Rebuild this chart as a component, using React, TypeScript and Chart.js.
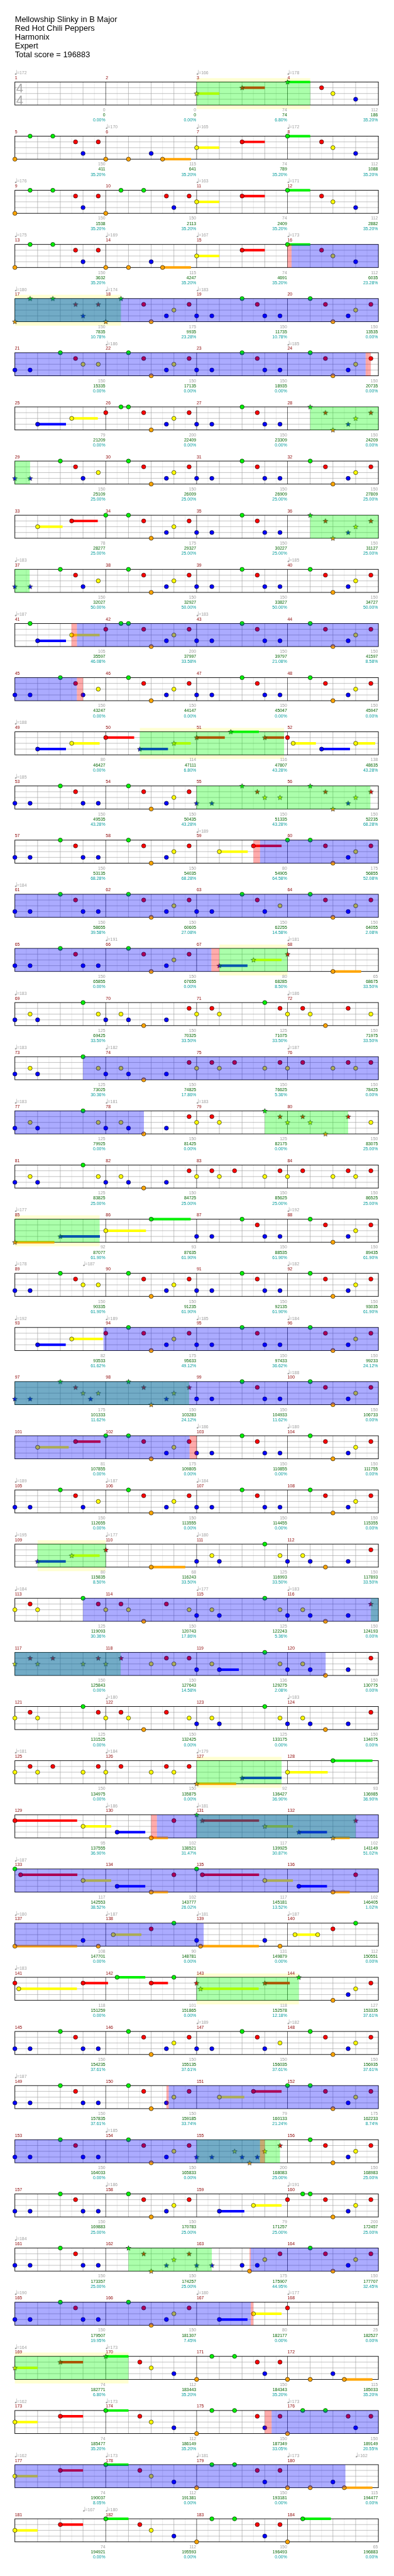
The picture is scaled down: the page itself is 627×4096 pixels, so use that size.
import { useEffect, useRef } from 'react';
import { Chart, registerables } from 'chart.js';
Chart.register(...registerables);

const S = 0.612;
const W = 627;
const H = 4096;
const REF_W = 1024;
const REF_H = 6691;

const TITLE_LINES = [
  'Mellowship Slinky in B Major',
  'Red Hot Chili Peppers',
  'Harmonix',
  'Expert',
  'Total score = 196883',
];

const LANE_KEYS = 'GRYBO';
const LANE_COLORS = ['#00f000', '#ff0000', '#ffff00', '#0000ff', '#ffa500'];

// Notes per row (4 measures / 16 beats each): <lane><beat>[~<sustain beats>]
const ROW_NOTES = [
  'Y8~1 R10~1 G12~1 R13.5 Y14 B15',
  'O0 G0.67 G1.67 R2.67 B3 R3.67 O4 O5 B6 O6.5~1.25 Y8~1 R10~1 G12~1 R13.5 Y14 B15',
  'O0 G0.67 G1.67 R2.67 B3 R3.67 O4 G4.67 G5.67 R6.67 B7 R7.67 Y8~1 R10~1 G12~1 R13.5 Y14 B15',
  'O0 G0.67 G1.67 R2.67 B3 R3.67 O4 O5 B6 O6.5~1.25 Y8~1 R10~1 G12~1 R13.5 Y14 B15',
  'O0 G0.67 G1.67 R2.67 B3 R3.67 O4 G4.67 R5.67 O6 B6.67 Y7 R7.67 B8 B8.67 G10 R10.67 B11 B11.67 G13 R13.67 O14 B14.67 Y15 R15.67',
  'B0 B0.67 G2 R2.67 Y3 Y3.67 G5 R5.67 O6 B6.67 Y7 R7.67 B8 B8.67 G10 R10.67 B11 B11.67 G13 R13.67 O14 B14.67 Y15 R15.67',
  'B1~1.25 Y2.5~1.15 R4 G4.67 G5 R5.67 O6 B6.67 Y7 R7.67 B8 B8.67 G10 R10.67 B11 B11.67 G13 R13.67 O14 B14.67 Y15 R15.67',
  'B0 B0.67 G2 R2.67 B3 Y3.67 G5 R5.67 O6 B6.67 Y7 R7.67 B8 B8.67 G10 R10.67 B11 B11.67 G13 R13.67 O14 B14.67 Y15 R15.67',
  'Y1~1.1 R2.5~1.15 G4 G5 R5.67 O6 B6.67 Y7 R7.67 B8 B8.67 G10 R10.67 B11 B11.67 G13 R13.67 O14 B14.67 Y15 R15.67',
  'B0 B0.67 G2 R2.67 B3 Y3.67 G5 R5.67 O6 B6.67 Y7 R7.67 B8 B8.67 G10 R10.67 B11 B11.67 G13 R13.67 O14 B14.67 Y15 R15.67',
  'G0.67 B1~1.25 Y2.5~1.23 R4 G4.67 G5 R5.67 O6 B6.67 Y7 R7.67 B8 B8.67 G10 R10.67 B11 B11.67 G13 R13.67 O14 B14.67 Y15 R15.67',
  'B0 B0.67 G2 R2.67 B3 Y3.67 G5 R5.67 O6 B6.67 Y7 R7.67 B8 B8.67 G10 R10.67 B11 B11.67 G13 R13.67 O14 B14.67 Y15 R15.67',
  'B1~1.25 Y2.5~1.23 R4~1.25 B5.5~1.24 Y7~0.74 R8~1.24 G9.5~1.24 R11~0.85 R12 Y12.25~1 B13.5~1.25 Y15~0.86',
  'B0 B0.67 G2 R2.67 B3 B3.67 G5 R5.67 O6 B6.67 Y7 R7.67 B8 B8.67 G10 R10.67 Y11 Y11.67 G13 R13.67 O14 B14.67 Y15 R15.67',
  'B0 B0.67 G2 R2.67 B3 B3.67 G5 R5.67 O6 B6.67 Y7 R7.67 Y9~1.25 R10.5~1.24 G12 G13 R13.67 O14 B14.67 Y15 R15.67',
  'B0 B0.67 G2 R2.67 B3 B3.67 G5 R5.67 O6 B6.67 Y7 R7.67 B8 B8.67 G10 R10.67 B11 Y11.67 G13 R13.67 O14 B14.67 Y15 R15.67',
  'B0 B0.67 G2 R2.67 B3 B3.67 G5 R5.67 O6 B6.67 Y7 R7.67 B9~1.24 Y10.5~1.24 R12 O14~1.24',
  'B0 Y0.67 B1 G3 Y3.67 B4 Y4.67 B5 O5.67 B6.67 R7.67 Y8 R8.67 Y9 G11 R11.67 Y12 R12.67 Y13 O13.67 R14.67 Y15.67',
  'B0 Y0.67 B1 G3 Y3.67 B4 Y4.67 B5 O5.67 B6.67 R7.67 Y8 R8.67 Y9 R9.67 Y11 R11.67 Y12 R12.67 Y14 R14.67 Y15 R15.67',
  'B0 Y0.67 B1 G3 Y3.67 B4 Y4.67 B5 O5.67 B6.67 R7.67 Y8 R8.67 Y9 G11 R11.67 Y12 R12.67 Y13 O13.67 R14.67 Y15.67',
  'B0 Y0.67 B1 G3 Y3.67 B4 Y4.67 B5 O5.67 B6.67 R7.67 Y8 R8.67 Y9 R9.67 Y11 R11.67 Y12 R12.67 Y14 R14.67 Y15 R15.67',
  'O0~1.74 B2~1.74 Y4~1.77 G6~1.74 B8 B8.67 G10 R10.67 B11 B11.67 G13 R13.67 O14 B14.67 Y15 R15.67',
  'B0 B0.67 G2 R2.67 Y3 Y3.67 G5 R5.67 O6 B6.67 Y7 R7.67 B8 B8.67 G10 R10.67 B11 B11.67 G13 R13.67 O14 B14.67 Y15 R15.67',
  'B1~1.24 Y2.5~1.37 R4 G5 R5.67 O6 B6.67 Y7 R7.67 B8 B8.67 G10 R10.67 B11 B11.67 G13 R13.67 O14 B14.67 Y15 R15.67',
  'B0 B0.67 G2 R2.67 Y3 B3.33 Y3.67 G5 R5.67 O6 B6.67 Y7 R7.67 B8 B8.67 G10 R10.67 B11 B11.67 G13 R13.67 O14 B14.67 Y15 R15.67',
  'Y1~1.37 R2.67~1.1 G4 G5 R5.67 O6 B6.67 Y7 R7.67 B8 B8.67 G10 R10.67 B11 B11.67 G13 R13.67 O14 B14.67 Y15 R15.67',
  'B0 B0.67 G2 R2.67 B3 Y3.67 G5 R5.67 O6 B6.67 Y7 R7.67 B8 B8.67 G10 R10.67 B11 B11.67 G13 R13.67 O14 B14.67 Y15 R15.67',
  'B1~1.24 Y2.5~1.23 R4 O6~1.5 B8 Y8.67 B9 G11 Y11.67 B12 Y12.67 B13 O13.67 B14.67 R15.67',
  'Y0 R0.67 Y1 G3 R3.67 Y4 R4.67 Y5 O5.67 R6.67 Y7.67 B8 Y8.67 B9 G11 Y11.67 B12 Y12.67 B13 O13.67 B14.67 R15.67',
  'Y0 R0.67 Y1 R1.67 Y3 R3.67 Y4 R4.67 Y6 R6.67 Y7 R7.67 B8 Y8.67 B9~0.86 G11 Y11.67 B12 Y12.67 B13 O13.67 B14.67 R15.67',
  'Y0 R0.67 Y1 G3 R3.67 Y4 R4.67 Y5 O5.67 R6.67 Y7.67 B8 Y8.67 B9 G11 Y11.67 B12 Y12.67 B13 O13.67 B14.67 R15.67',
  'Y0 R0.67 Y1 R1.67 Y3 R3.67 Y4 R4.67 Y6 R6.67 Y7 R7.67 O8~1.74 B10~1.74 Y12~1.77 G14~1.74',
  'R0~2.74 Y3~1.24 B4.5~1.24 O6~0.74 R7 G8 R8.25~2.5 Y11~1.24 B12.5~1.24 O14~0.74 R15',
  'G0 R0.25~2.5 Y3~1.24 B4.5~1.24 O6~0.74 R7 G8 R8.25~2.5 Y11~1.24 B12.5~1.24 O14~0.74 R15',
  'O0~2.74 B3 O3.67 Y4.33~1.24 R6 G7 B8 O8.17~2.57 B11 O11.67 Y12.33~1 Y13.33 R14 G15',
  'R0 Y0.17~2.56 R3~1.1 G4.5~1.24 R6~0.74 G7 R8 Y8.17~2.56 R11~1.1 G12.5 O14 B14.67 Y15 R15.67',
  'B0 B0.67 G2 R2.67 B3 B3.67 G5 R5.67 O6 B6.67 Y7 R7.67 B8 B8.67 G10 R10.67 B11 Y11.67 G13 R13.67 O14 B14.67 Y15 R15.67',
  'B0 B0.67 G2 R2.67 B3 B3.67 G5 R5.67 O6 B6.67 Y7 R7.67 Y9~1.1 R10.5~1.24 G12 G13 R13.67 O14 B14.67 Y15 R15.67',
  'B0 B0.67 G2 R2.67 B3 B3.67 G5 R5.67 O6 B6.67 Y7 R7.67 B8 B8.67 Y9.67 B10 O10.33 B10.67 Y11 R11.67 G13 R13.67 O14 B14.67 Y15 R15.67',
  'B0 B0.67 G2 R2.67 B3 B3.67 G5 R5.67 O6 B6.67 Y7 R7.67 B9~1.1 Y10.5~1.24 R12 G12.67 G13 R13.67 O14 B14.67 Y15 R15.67',
  'B0 B0.67 G2 R2.67 B3 B3.67 G5 R5.67 O6 B6.67 Y7 R7.67 B8 B8.67 B10 O10.33 B10.67 Y11 R11.67 G13 R13.67 O14 B14.67 Y15 R15.67',
  'B0 B0.67 G2 R2.67 B3 B3.67 G5 R5.67 O6 B6.67 Y7 R7.67 B9~1.24 Y10.5~1.24 R12',
  'Y0~1 R2~1 G4~1 R5.5 Y6 B7 O8 G8.67 G9.67 R10.67 B11 R11.67 O12 O13 B14 O14.5~1.24',
  'Y0~1 R2~1 G4~1 R5.5 Y6 B7 O8 G8.67 G9.67 R10.67 B11 R11.67 O12 G12.67 G13.67 R14.67 B15 R15.67',
  'Y0~1 R2~1 G4~1 R5.5 Y6 B7 O8 G8.67 G9.67 R10.67 B11 R11.67 O12 O13 B14 O14.5~1.24',
  'Y0~1 R2~1 G4~1 R5.5 Y6 B7 O8 G8.67 G9.67 R10.67 B11 R11.67 O12 G12.67~1.24',
];

const MEASURE_GRAY = [
  0, 0, 74, 112, 150, 115, 74, 112, 150, 150, 74, 112, 150, 115, 74, 112,
  150, 175, 150, 150, 150, 150, 150, 150, 79, 200, 150, 150, 150, 150, 150, 150,
  78, 175, 150, 150, 150, 150, 150, 150, 105, 200, 150, 150, 150, 150, 150, 150,
  80, 114, 116, 138, 150, 150, 150, 150, 150, 150, 80, 175, 150, 150, 150, 150,
  150, 150, 80, 65, 125, 150, 125, 150, 125, 150, 150, 150, 125, 150, 125, 150,
  125, 150, 150, 150, 92, 93, 150, 150, 150, 150, 150, 150, 82, 175, 150, 150,
  175, 150, 150, 150, 81, 175, 150, 150, 150, 150, 150, 150, 80, 68, 125, 150,
  125, 150, 125, 150, 150, 150, 136, 150, 125, 150, 125, 150, 150, 150, 92, 93,
  95, 102, 117, 102, 117, 102, 117, 102, 108, 90, 131, 112, 118, 101, 118, 127,
  150, 150, 150, 150, 150, 150, 79, 175, 150, 150, 200, 150, 150, 150, 79, 200,
  150, 150, 175, 150, 150, 150, 80, 25, 74, 112, 150, 115, 74, 112, 150, 150,
  74, 112, 150, 115, 74, 112, 150, 65,
];

const MEASURE_SCORE = [
  0, 0, 74, 186, 411, 641, 789, 1088, 1538, 2113, 2409, 2882, 3632, 4247, 4691, 6035,
  7835, 9935, 11735, 13535, 15335, 17135, 18935, 20735, 21209, 22409, 23309, 24209, 25109, 26009, 26909, 27809,
  28277, 29327, 30227, 31127, 32027, 32927, 33827, 34727, 35597, 37997, 39797, 41597, 43247, 44147, 45047, 45947,
  46427, 47111, 47807, 48635, 49535, 50435, 51335, 52235, 53135, 54035, 54905, 56855, 58655, 60605, 62255, 64055,
  65855, 67655, 68285, 68675, 69425, 70325, 71075, 71975, 73025, 74825, 76625, 78425, 79925, 81425, 82175, 83075,
  83825, 84725, 85625, 86525, 87077, 87635, 88535, 89435, 90335, 91235, 92135, 93035, 93533, 95633, 97433, 99233,
  101333, 103283, 104933, 106733, 107855, 109805, 110855, 111755, 112655, 113555, 114455, 115355, 115835, 116243, 116993, 117893,
  119093, 120743, 122243, 124193, 125843, 127643, 129275, 130775, 131525, 132425, 133175, 134075, 134975, 135875, 136427, 136985,
  137555, 138521, 139925, 141149, 142553, 143777, 145181, 146405, 147701, 148781, 149879, 150551, 151259, 151865, 152578, 153335,
  154235, 155135, 156035, 156935, 157835, 159185, 160133, 162233, 164033, 165833, 168083, 168983, 169883, 170783, 171257, 172457,
  173357, 174257, 175907, 177707, 179507, 181307, 182177, 182527, 182771, 183443, 184343, 185033, 185477, 186149, 187349, 189149,
  190037, 191381, 193181, 194477, 194921, 195593, 196493, 196883,
];

const MEASURE_PCT = [
  0, 0, 6.8, 35.2, 35.2, 35.2, 35.2, 35.2, 35.2, 35.2, 35.2, 35.2, 35.2, 35.2, 35.2, 23.28,
  10.78, 23.28, 10.78, 0, 0, 0, 0, 0, 0, 0, 0, 0, 25, 25, 25, 25,
  25, 25, 25, 25, 50, 50, 50, 50, 46.08, 33.58, 21.08, 8.58, 0, 0, 0, 0,
  0, 6.8, 43.28, 43.28, 43.28, 43.28, 43.28, 68.28, 68.28, 68.28, 64.58, 52.08, 39.58, 27.08, 14.58, 2.08,
  0, 0, 8.5, 33.5, 33.5, 33.5, 33.5, 33.5, 30.36, 17.86, 5.36, 0, 0, 0, 0, 25,
  25, 25, 25, 25, 61.9, 61.9, 61.9, 61.9, 61.9, 61.9, 61.9, 61.9, 61.62, 49.12, 36.62, 24.12,
  11.62, 24.12, 11.62, 0, 0, 0, 0, 0, 0, 0, 0, 0, 8.5, 33.5, 33.5, 33.5,
  30.36, 17.86, 5.36, 0, 0, 14.58, 2.08, 0, 0, 0, 0, 0, 0, 0, 36.9, 36.9,
  36.9, 31.47, 30.87, 51.02, 38.52, 26.02, 13.52, 1.02, 0, 0, 0, 0, 0, 0, 12.18, 37.61,
  37.61, 37.61, 37.61, 37.61, 37.61, 33.74, 21.24, 8.74, 0, 0, 25, 25, 25, 25, 25, 25,
  25, 25, 44.95, 32.45, 19.95, 7.45, 0, 0, 6.8, 35.2, 35.2, 35.2, 35.2, 35.2, 33.05, 20.55,
  8.05, 0, 0, 0, 0, 0, 0, 0,
];

// [measure, beat within measure, bpm]
const TEMPOS = [
  [1, 0, 172], [3, 0, 166], [4, 0, 178],
  [6, 0, 170], [7, 0, 165], [8, 0, 172],
  [9, 0, 176], [11, 0, 163], [12, 0, 171],
  [13, 0, 175], [14, 0, 169], [15, 0, 167], [16, 0, 173],
  [17, 0, 180], [18, 0, 174], [19, 0, 183],
  [22, 0, 186], [24, 0, 185],
  [37, 0, 183], [40, 0, 185],
  [41, 0, 187], [43, 0, 183],
  [49, 0, 188],
  [53, 0, 185],
  [59, 0, 189],
  [61, 0, 184],
  [66, 0, 191], [68, 0, 181],
  [69, 0, 183], [72, 0, 186],
  [73, 0, 183], [74, 0, 182], [76, 0, 187],
  [77, 0, 183], [78, 0, 181], [79, 0, 183],
  [85, 0, 177], [88, 0, 192],
  [89, 0, 178], [89, 3, 187], [92, 0, 182],
  [93, 0, 192], [94, 0, 189], [95, 0, 185], [96, 0, 184],
  [100, 0, 188],
  [103, 0, 186], [104, 0, 180],
  [105, 0, 189], [106, 0, 187], [107, 0, 184],
  [109, 0, 195], [110, 0, 177], [111, 0, 180],
  [113, 0, 184], [115, 0, 177], [116, 0, 183],
  [122, 0, 180], [124, 0, 183],
  [125, 0, 181], [126, 0, 184], [127, 0, 179],
  [130, 0, 186], [131, 0, 181],
  [133, 0, 187],
  [137, 0, 180], [138, 0, 187], [139, 0, 181], [140, 0, 187],
  [141, 0, 183],
  [147, 0, 189], [148, 0, 182],
  [149, 0, 187],
  [154, 0, 185],
  [158, 0, 186], [160, 0, 191],
  [161, 0, 184],
  [165, 0, 190], [167, 0, 180], [168, 0, 177],
  [169, 0, 164], [170, 0, 173],
  [173, 0, 162], [174, 0, 173], [176, 0, 173],
  [177, 0, 162], [178, 0, 173], [179, 0, 181], [180, 0, 173], [180, 3, 162],
  [181, 3, 167], [182, 0, 180],
];

// [row (1-based), start beat, end beat]
const GREEN_ZONES = [
  [1, 8, 13], [5, 0, 4.67], [7, 13, 16], [8, 0, 0.67], [9, 13, 16], [10, 0, 0.65],
  [13, 5.5, 11.85], [14, 8, 15.65], [17, 9, 12], [20, 11, 14.67], [22, 0, 3.73],
  [25, 0, 7.67], [28, 1, 4], [29, 15.67, 16], [30, 0, 4.66], [32, 8, 11.74],
  [33, 8, 15], [36, 8, 12.5], [39, 8, 11.67], [41, 5, 8.67], [43, 0, 5],
];
const BLUE_ZONES = [
  [4, 12.18, 16], [5, 0, 16], [6, 0, 15.44], [11, 2.73, 16], [12, 0, 2.73],
  [15, 10.79, 16], [16, 0, 16], [17, 0, 8.65], [19, 3, 16], [20, 0, 5.68],
  [24, 3.9, 16], [25, 0, 16], [26, 0, 7.69], [29, 3, 16], [30, 0, 13.68],
  [33, 6.25, 16], [34, 0, 16], [35, 0, 8.31], [38, 6.77, 16], [39, 0, 10.79],
  [41, 10.38, 16], [42, 0, 10.38], [44, 11.3, 16], [45, 0, 14.55],
];
const PINK_ZONES = [
  [4, 12, 12.18], [6, 15.44, 15.67], [11, 2.49, 2.73], [12, 2.73, 3], [15, 10.5, 10.79],
  [17, 8.65, 9], [26, 7.69, 8], [33, 6, 6.25], [38, 6.67, 6.77], [39, 10.79, 11],
  [41, 10.33, 10.38], [42, 10.38, 10.5], [44, 11, 11.3],
];
const PHRASE_BANDS = [
  [1, 8, 13], [5, 0, 4.67], [13, 5.5, 11.85], [17, 9, 12], [22, 0, 3.73],
  [28, 1, 4], [32, 8, 11.74], [36, 8, 12.5], [43, 0, 5],
];

// reference-pixel geometry
const LEFT = 31;
const BEAT_W = 60;
const STAFF0 = 205.3;
const ROW_PITCH = 141;
const LANE_GAP = 15;
const STAFF_H = 60;
const FONT = '"Liberation Sans", Arial, sans-serif';

type Note = { row: number; beat: number; lane: number; len: number };

const NOTES: Note[] = ROW_NOTES.flatMap((s, row) =>
  s.trim().split(/\s+/).map((tok) => {
    const lane = LANE_KEYS.indexOf(tok[0]);
    const [b, l] = tok.slice(1).split('~');
    return { row, beat: parseFloat(b), lane, len: l ? parseFloat(l) : 0 };
  })
);

const staffTop = (row: number) => STAFF0 + ROW_PITCH * row;
const laneY = (row: number, lane: number) => staffTop(row) + LANE_GAP * lane;

const isStar = (n: Note) =>
  GREEN_ZONES.some(([r, s, e]) => r - 1 === n.row && n.beat >= s - 0.03 && n.beat <= e + 0.03);

function starImage(color: string) {
  const size = 11;
  const c = document.createElement('canvas');
  c.width = size;
  c.height = size;
  const g = c.getContext('2d')!;
  const R = 6.6 * S;
  const r = 2.7 * S;
  g.beginPath();
  for (let i = 0; i < 10; i++) {
    const a = -Math.PI / 2 + (i * Math.PI) / 5;
    const rad = i % 2 ? r : R;
    g.lineTo(size / 2 + rad * Math.cos(a), size / 2 + 0.3 + rad * Math.sin(a));
  }
  g.closePath();
  g.fillStyle = color;
  g.fill();
  g.lineWidth = 0.6;
  g.strokeStyle = '#000';
  g.stroke();
  return c;
}

const gridPlugin = {
  id: 'gridPlugin',
  beforeDatasetsDraw(chart: any) {
    const { ctx } = chart;
    const xs = chart.scales.x;
    const ys = chart.scales.y;
    const X = (b: number) => xs.getPixelForValue(b);
    const Y = (v: number) => ys.getPixelForValue(v);
    ctx.save();
    // phrase bands
    ctx.fillStyle = '#ffffd2';
    PHRASE_BANDS.forEach(([r, s, e]) => {
      const t = staffTop(r - 1);
      ctx.fillRect(X(s), Y(t - 10), X(e) - X(s), Y(t + STAFF_H + 10.5) - Y(t - 10));
    });
    for (let row = 0; row < ROW_NOTES.length; row++) {
      const t = staffTop(row);
      const y0 = Y(t);
      const y1 = Y(t + STAFF_H);
      const x0 = X(0);
      const x1 = X(16);
      ctx.fillStyle = '#ffffff';
      ctx.fillRect(x0, y0, x1 - x0, y1 - y0);
      // half-beat lines
      ctx.lineWidth = S;
      ctx.strokeStyle = '#dedede';
      ctx.beginPath();
      for (let k = 1; k < 32; k += 2) {
        ctx.moveTo(X(k / 2), y0);
        ctx.lineTo(X(k / 2), y1);
      }
      ctx.stroke();
      // beat lines
      ctx.strokeStyle = '#9a9a9a';
      ctx.beginPath();
      for (let k = 1; k < 16; k++) {
        if (k % 4 === 0) continue;
        ctx.moveTo(X(k), y0);
        ctx.lineTo(X(k), y1);
      }
      // lane lines
      for (let l = 1; l < 4; l++) {
        ctx.moveTo(x0, Y(laneY(row, l)));
        ctx.lineTo(x1, Y(laneY(row, l)));
      }
      ctx.stroke();
      // measure lines
      ctx.strokeStyle = '#000';
      ctx.beginPath();
      for (let k = 4; k < 16; k += 4) {
        ctx.moveTo(X(k), y0);
        ctx.lineTo(X(k), y1);
      }
      ctx.stroke();
      ctx.lineWidth = 1.5 * S;
      ctx.strokeRect(x0, y0, x1 - x0, y1 - y0);
    }
    // time signature
    const t0 = staffTop(0);
    ctx.fillStyle = 'rgba(150,150,150,0.85)';
    ctx.font = `${33 * S}px ${FONT}`;
    ctx.textAlign = 'left';
    ctx.textBaseline = 'alphabetic';
    ctx.fillText('4', X((34.5 - LEFT) / BEAT_W), Y(t0 + 27.7));
    ctx.fillText('4', X((34.5 - LEFT) / BEAT_W), Y(t0 + 57.7));
    ctx.restore();
  },
  afterDatasetsDraw(chart: any) {
    const { ctx } = chart;
    const xs = chart.scales.x;
    const ys = chart.scales.y;
    const X = (b: number) => xs.getPixelForValue(b);
    const Y = (v: number) => ys.getPixelForValue(v);
    ctx.save();
    const fillZones = (zones: number[][], color: string) => {
      ctx.fillStyle = color;
      zones.forEach(([r, s, e]) => {
        const t = staffTop(r - 1);
        ctx.fillRect(X(s), Y(t), X(e) - X(s), Y(t + STAFF_H) - Y(t));
      });
    };
    fillZones(GREEN_ZONES, 'rgba(0,255,0,0.33)');
    fillZones(BLUE_ZONES, 'rgba(0,0,255,0.33)');
    fillZones(PINK_ZONES, 'rgba(255,0,0,0.33)');

    // title
    ctx.fillStyle = '#000';
    ctx.textAlign = 'left';
    ctx.textBaseline = 'alphabetic';
    ctx.font = `${21 * S}px ${FONT}`;
    TITLE_LINES.forEach((line, i) => {
      ctx.fillText(line, X(0), Y(49.3 + 22.7 * i));
    });

    const small = `${11.3 * S}px ${FONT}`;
    ctx.font = small;
    // measure numbers and scores
    for (let m = 0; m < MEASURE_SCORE.length; m++) {
      const row = Math.floor(m / 4);
      const t = staffTop(row);
      const bStart = (m % 4) * 4;
      ctx.textAlign = 'left';
      ctx.fillStyle = '#8b0000';
      ctx.fillText(String(m + 1), X(bStart), Y(t - 7.3));
      const xr = X(bStart + 4 - 1.2 / BEAT_W);
      ctx.textAlign = 'right';
      ctx.fillStyle = '#a0a0a0';
      ctx.fillText(String(MEASURE_GRAY[m]), xr, Y(t + 76.7));
      ctx.fillStyle = '#006400';
      ctx.fillText(String(MEASURE_SCORE[m]), xr, Y(t + 90));
      ctx.fillStyle = '#009a9a';
      ctx.fillText(MEASURE_PCT[m].toFixed(2) + '%', xr, Y(t + 103.3));
    }
    // tempo markers
    ctx.textAlign = 'left';
    TEMPOS.forEach(([m, b, bpm]) => {
      const row = Math.floor((m - 1) / 4);
      const beat = ((m - 1) % 4) * 4 + b;
      const t = staffTop(row);
      const x = X(beat);
      ctx.fillStyle = '#a0a0a0';
      ctx.strokeStyle = '#a0a0a0';
      ctx.beginPath();
      ctx.ellipse(x + 2.3 * S, Y(t - 20.8), 2.4 * S, 1.9 * S, -0.35, 0, Math.PI * 2);
      ctx.fill();
      ctx.lineWidth = 0.9 * S;
      ctx.beginPath();
      ctx.moveTo(x + 4.4 * S, Y(t - 21));
      ctx.lineTo(x + 4.4 * S, Y(t - 31.3));
      ctx.stroke();
      ctx.fillText('=' + bpm, x + 5.3 * S, Y(t - 20));
    });
    ctx.restore();
  },
};

export default function App() {
  const ref = useRef<HTMLCanvasElement>(null);
  useEffect(() => {
    if (!ref.current) return;
    const datasets: any[] = [];
    // note heads
    for (let lane = 0; lane < 5; lane++) {
      const normal = NOTES.filter((n) => n.lane === lane && !isStar(n));
      const stars = NOTES.filter((n) => n.lane === lane && isStar(n));
      datasets.push({
        data: normal.map((n) => ({ x: n.beat, y: laneY(n.row, lane) })),
        pointStyle: 'circle',
        pointRadius: 3.3,
        pointBackgroundColor: LANE_COLORS[lane],
        pointBorderColor: '#000',
        pointBorderWidth: 0.6,
        order: 1,
      });
      datasets.push({
        data: stars.map((n) => ({ x: n.beat, y: laneY(n.row, lane) })),
        pointStyle: starImage(LANE_COLORS[lane]),
        pointRadius: 4,
        order: 1,
      });
    }
    // sustains
    NOTES.filter((n) => n.len > 0).forEach((n) => {
      const y = laneY(n.row, n.lane);
      datasets.push({
        data: [
          { x: n.beat, y },
          { x: n.beat + n.len, y },
        ],
        showLine: true,
        borderColor: LANE_COLORS[n.lane],
        borderWidth: 6.5 * S,
        borderCapStyle: 'butt',
        pointRadius: 0,
        order: 2,
      });
    });
    const chart = new Chart(ref.current, {
      type: 'scatter',
      data: { datasets },
      options: {
        animation: false,
        responsive: false,
        devicePixelRatio: 1,
        events: [],
        layout: { padding: 0 },
        plugins: { legend: { display: false }, tooltip: { enabled: false } },
        scales: {
          x: { type: 'linear', min: -LEFT / BEAT_W, max: (REF_W - LEFT) / BEAT_W, display: false },
          y: { type: 'linear', min: 0, max: REF_H, reverse: true, display: false },
        },
      },
      plugins: [gridPlugin],
    });
    return () => chart.destroy();
  }, []);
  return (
    <div style={{ position: 'absolute', left: 0, top: 0, width: W, height: H, background: '#fff' }}>
      <canvas ref={ref} width={W} height={H} style={{ display: 'block', width: W, height: H }} />
    </div>
  );
}
